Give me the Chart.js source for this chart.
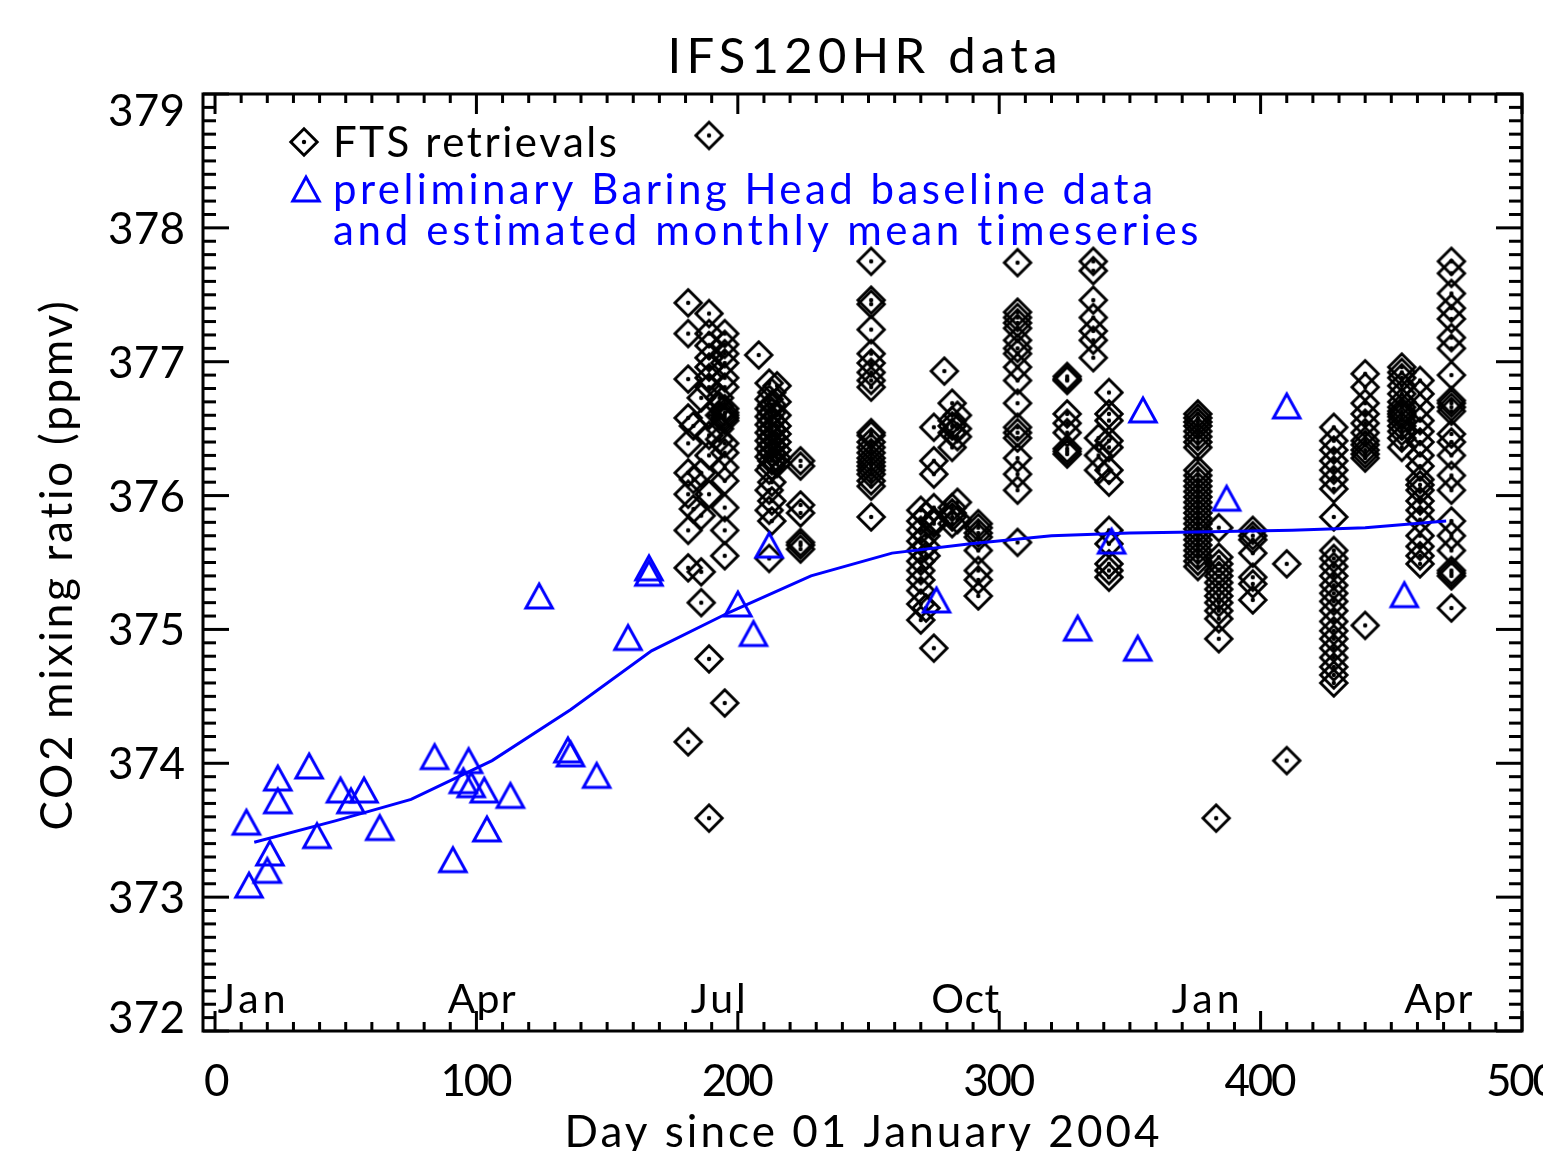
<!DOCTYPE html>
<html>
<head>
<meta charset="utf-8">
<title>IFS120HR data</title>
<script src="https://cdn.jsdelivr.net/npm/chart.js@4"></script>
<style>
  html, body { margin: 0; padding: 0; background: #fff; }
  canvas { display: block; }
</style>
</head>
<body>
<canvas id="co2Chart" width="1543" height="1151"></canvas>
<script>
// FTS retrievals, one column of values per observation day
const ftsDays = [181, 183, 186, 189, 193, 195, 208, 212, 213, 215, 224,
                 251, 270, 272, 275, 279, 282, 284, 292, 307, 326, 336, 338, 342,
                 376, 383, 384, 397, 410, 428, 440, 454, 461, 473];
const ftsCo2 = [
    [377.44, 377.21, 376.87, 376.58, 376.39, 376.17, 376.01, 375.74, 375.46, 374.16],
    [376.52, 376.12, 375.90],
    [376.73, 376.17, 375.85, 375.43, 375.20],
    [378.69, 377.36, 377.21, 377.12, 377.03, 376.96, 376.88, 376.81, 376.60, 376.45, 376.30, 376.01, 374.78, 373.59],
    [376.73, 376.67, 376.60, 376.50, 376.42],
    [377.21, 377.13, 377.06, 376.99, 376.88, 376.81, 376.65, 376.62, 376.60, 376.58, 376.56, 376.39, 376.32, 376.21, 376.11, 375.91, 375.74, 375.55, 374.45],
    [377.05],
    [376.84, 376.72, 376.65, 376.59, 376.53, 376.47, 376.41, 376.35, 376.29, 376.19, 376.04, 375.89, 375.53],
    [376.77, 376.68, 376.62, 376.56, 376.50, 376.44, 376.38, 376.32, 376.26, 376.22, 376.10, 375.96, 375.81],
    [376.82, 376.70, 376.60, 376.52, 376.46, 376.40, 376.34, 376.28, 376.24],
    [376.26, 376.22, 375.93, 375.87, 375.65, 375.63, 375.60],
    [377.75, 377.46, 377.43, 377.24, 377.06, 376.99, 376.92, 376.86, 376.81, 376.47, 376.45, 376.40, 376.36, 376.32, 376.28, 376.25, 376.22, 376.19, 376.16, 376.11, 376.07, 375.84],
    [375.89, 375.81, 375.74, 375.66, 375.59, 375.51, 375.44, 375.37, 375.29, 375.19, 375.07],
    [375.85, 375.70, 375.62, 375.55, 375.16],
    [376.51, 376.26, 376.16, 375.91, 375.81, 375.79, 374.86],
    [376.93],
    [376.69, 376.56, 376.52, 376.47, 376.36, 375.91, 375.87, 375.84, 375.79],
    [376.60, 376.50, 376.44, 375.95, 375.82],
    [375.79, 375.76, 375.72, 375.69, 375.59, 375.44, 375.37, 375.25],
    [377.74, 377.37, 377.33, 377.29, 377.25, 377.16, 377.10, 377.06, 376.96, 376.86, 376.69, 376.51, 376.47, 376.43, 376.28, 376.16, 376.04, 375.65],
    [376.89, 376.87, 376.86, 376.61, 376.54, 376.47, 376.35, 376.33, 376.31],
    [377.75, 377.68, 377.46, 377.33, 377.23, 377.16, 377.03],
    [376.43, 376.30, 376.19],
    [376.77, 376.61, 376.56, 376.41, 376.36, 376.19, 376.10, 375.74, 375.64, 375.49, 375.44, 375.39],
    [376.61, 376.58, 376.55, 376.52, 376.48, 376.44, 376.40, 376.36, 376.19, 376.15, 376.11, 376.07, 376.03, 375.99, 375.95, 375.91, 375.87, 375.83, 375.79, 375.75, 375.71, 375.67, 375.63, 375.59, 375.55, 375.51, 375.47],
    [373.59],
    [375.76, 375.54, 375.49, 375.44, 375.40, 375.35, 375.30, 375.25, 375.20, 375.14, 375.08, 374.93],
    [375.74, 375.70, 375.67, 375.57, 375.39, 375.34, 375.22],
    [375.49, 374.02],
    [376.51, 376.41, 376.34, 376.26, 376.19, 376.12, 376.05, 375.84, 375.59, 375.53, 375.47, 375.40, 375.33, 375.27, 375.21, 375.14, 375.06, 374.99, 374.93, 374.86, 374.79, 374.72, 374.66, 374.60],
    [376.91, 376.81, 376.69, 376.61, 376.54, 376.47, 376.41, 376.38, 376.34, 376.31, 376.28, 375.03],
    [376.96, 376.92, 376.88, 376.82, 376.76, 376.70, 376.66, 376.63, 376.61, 376.59, 376.56, 376.52, 376.48, 376.43, 376.36],
    [376.86, 376.76, 376.66, 376.56, 376.48, 376.40, 376.30, 376.22, 376.12, 376.08, 376.04, 375.96, 375.89, 375.82, 375.70, 375.62, 375.55, 375.49],
    [377.75, 377.66, 377.51, 377.40, 377.32, 377.18, 377.10, 376.90, 376.71, 376.69, 376.66, 376.63, 376.46, 376.40, 376.30, 376.15, 376.04, 375.81, 375.70, 375.59, 375.44, 375.42, 375.40, 375.16]
];

// preliminary Baring Head baseline data
const bhDays = [12, 13, 20, 21, 24, 24, 36, 39, 48, 52, 57, 63, 84, 91, 97, 95, 98, 103, 104, 113,
                124, 135, 136, 146, 158, 166, 166, 200, 206, 212, 276, 330, 343, 353, 355, 387, 410, 455];
const bhCo2 = [373.56, 373.09, 373.20, 373.33, 373.89, 373.72, 373.98, 373.46, 373.80, 373.72,
               373.80, 373.52, 374.05, 373.28, 374.02, 373.87, 373.84, 373.80, 373.51, 373.76,
               375.25, 374.10, 374.07, 373.91, 374.94, 375.46, 375.42, 375.19, 374.97, 375.63,
               375.22, 375.01, 375.66, 374.86, 376.64, 375.98, 376.67, 375.26];

// estimated monthly mean timeseries
const meanDays = [15, 46, 75, 106, 136, 167, 197, 228, 259, 289, 320, 350, 381, 412, 440, 471];
const meanCo2 = [373.41, 373.57, 373.73, 374.02, 374.40, 374.84, 375.13, 375.40,
                 375.57, 375.64, 375.70, 375.72, 375.73, 375.74, 375.76, 375.81];

// axis labels
const xTicks = [0, 100, 200, 300, 400, 500];
const yTicks = [372, 373, 374, 375, 376, 377, 378, 379];
const monthLabels = ['Jan', 'Apr', 'Jul', 'Oct', 'Jan', 'Apr'];
const monthDays = [1, 89, 182, 274, 366, 455];

const FONT = 'Lato, "DejaVu Sans", sans-serif';
const BLUE = '#0000ff';

function makeDiamond() {
    const c = document.createElement('canvas');
    c.width = 34; c.height = 34;
    const g = c.getContext('2d');
    const m = 17, r = 13.2;
    g.strokeStyle = '#000';
    g.lineWidth = 2.9;
    g.lineJoin = 'miter';
    g.beginPath();
    g.moveTo(m, m - r); g.lineTo(m + r, m); g.lineTo(m, m + r); g.lineTo(m - r, m);
    g.closePath();
    g.stroke();
    g.fillStyle = '#000';
    g.beginPath();
    g.arc(m, m, 2.2, 0, Math.PI * 2);
    g.fill();
    return c;
}

function makeTriangle() {
    const c = document.createElement('canvas');
    c.width = 38; c.height = 38;
    const g = c.getContext('2d');
    const m = 19;
    g.strokeStyle = BLUE;
    g.lineWidth = 3;
    g.lineJoin = 'miter';
    g.beginPath();
    g.moveTo(m - 13.2, m + 12); g.lineTo(m, m - 12); g.lineTo(m + 13.2, m + 12);
    g.closePath();
    g.stroke();
    return c;
}

const diamondImg = makeDiamond();
const triangleImg = makeTriangle();

const ftsPoints = [];
ftsDays.forEach((d, i) => ftsCo2[i].forEach(v => ftsPoints.push({x: d, y: v})));
const bhPoints = bhDays.map((d, i) => ({x: d, y: bhCo2[i]}));
const meanPoints = meanDays.map((d, i) => ({x: d, y: meanCo2[i]}));

// draw text stretched to a given width with letter spacing
function spaced(ctx, text, x, y, width) {
    ctx.letterSpacing = '0px';
    const natural = ctx.measureText(text).width;
    const gap = text.length > 1 ? (width - natural) / (text.length - 1) : 0;
    ctx.letterSpacing = gap + 'px';
    ctx.textAlign = 'left';
    ctx.fillText(text, x, y);
    ctx.letterSpacing = '0px';
}

function tick(ctx, x1, y1, x2, y2) {
    ctx.beginPath();
    ctx.moveTo(x1, y1);
    ctx.lineTo(x2, y2);
    ctx.stroke();
}

const idlAxes = {
    id: 'idlAxes',
    afterDraw(chart) {
        const {ctx, chartArea: a, scales: {x, y}} = chart;
        ctx.save();
        ctx.strokeStyle = '#000';
        ctx.fillStyle = '#000';
        ctx.lineWidth = 3;
        ctx.lineCap = 'butt';
        ctx.strokeRect(a.left, a.top, a.right - a.left, a.bottom - a.top);

        // x ticks, every 10 days, major every 100
        for (let d = 0; d <= 500; d += 10) {
            const px = x.getPixelForValue(d);
            const len = d % 100 === 0 ? 20 : 9;
            tick(ctx, px, a.bottom, px, a.bottom - len);
            tick(ctx, px, a.top, px, a.top + len);
        }
        // y ticks, every 0.1 ppmv, major every 1
        for (let k = 0; k <= 70; k++) {
            const py = y.getPixelForValue(372 + k / 10);
            const len = k % 10 === 0 ? 26 : 13;
            tick(ctx, a.left, py, a.left + len, py);
            tick(ctx, a.right, py, a.right - len, py);
        }

        // tick labels
        ctx.font = '44px ' + FONT;
        ctx.textBaseline = 'alphabetic';
        xTicks.forEach(v => {
            const t = String(v);
            const w = t.length * 25 - 3;
            spaced(ctx, t, x.getPixelForValue(v) - w / 2, a.bottom + 65, w);
        });
        yTicks.forEach((v, i) => {
            const t = String(v);
            let py = y.getPixelForValue(v) + 16;
            if (i === 0) py -= 14;
            if (i === yTicks.length - 1) py += 16;
            spaced(ctx, t, a.left - 95, py, 77);
        });

        // month labels inside the plot
        ctx.font = '41px ' + FONT;
        monthLabels.forEach((m, i) => {
            const px = x.getPixelForValue(monthDays[i]);
            spaced(ctx, m, px, a.bottom - 18, m === 'Jul' ? 55 : 68);
        });

        // title and axis titles
        const cx = (a.left + a.right) / 2;
        ctx.font = '49px ' + FONT;
        spaced(ctx, 'IFS120HR data', cx - 195, 73, 390);
        ctx.font = '44px ' + FONT;
        spaced(ctx, 'Day since 01 January 2004', cx - 298, 1147, 595);
        ctx.save();
        ctx.translate(72, (a.top + a.bottom) / 2 + 3);
        ctx.rotate(-Math.PI / 2);
        spaced(ctx, 'CO2 mixing ratio (ppmv)', -265, 0, 530);
        ctx.restore();

        // legend
        const lx = a.left + 130;
        ctx.drawImage(diamondImg, a.left + 101 - 17, 142 - 17);
        ctx.drawImage(triangleImg, a.left + 103 - 19, 189 - 19);
        ctx.font = '42px ' + FONT;
        ctx.fillStyle = '#000';
        spaced(ctx, 'FTS retrievals', lx, 157, 284);
        ctx.fillStyle = BLUE;
        spaced(ctx, 'preliminary Baring Head baseline data', lx, 204, 820);
        spaced(ctx, 'and estimated monthly mean timeseries', lx, 245, 867);
        ctx.restore();
    }
};

Chart.defaults.font.family = FONT;

new Chart(document.getElementById('co2Chart'), {
    type: 'scatter',
    data: {
        datasets: [
            {
                label: 'FTS retrievals',
                data: ftsPoints,
                pointStyle: diamondImg,
                pointRadius: 10,
                order: 2
            },
            {
                label: 'estimated monthly mean timeseries',
                data: meanPoints,
                showLine: true,
                borderColor: BLUE,
                borderWidth: 3,
                pointRadius: 0,
                tension: 0,
                order: 1
            },
            {
                label: 'preliminary Baring Head baseline data',
                data: bhPoints,
                pointStyle: triangleImg,
                pointRadius: 10,
                order: 0
            }
        ]
    },
    options: {
        responsive: false,
        animation: false,
        events: [],
        layout: {
            padding: {left: 203, top: 94, right: 21, bottom: 120}
        },
        scales: {
            x: {type: 'linear', min: -4.6, max: 500, display: false},
            y: {type: 'linear', min: 372, max: 379, display: false}
        },
        plugins: {
            legend: {display: false},
            tooltip: {enabled: false},
            title: {display: false}
        }
    },
    plugins: [idlAxes]
});
</script>
</body>
</html>
